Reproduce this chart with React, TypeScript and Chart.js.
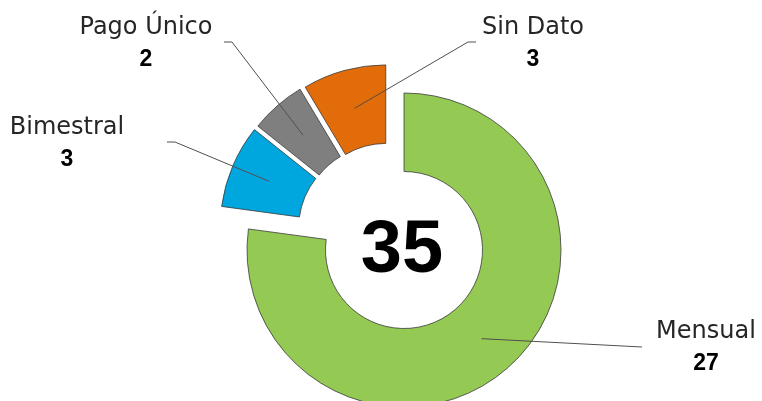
import React, { useEffect, useRef } from 'react';
import { Chart, registerables } from 'chart.js';

Chart.register(...registerables);

// ---- data ----
const categories = ['Mensual', 'Bimestral', 'Pago Único', 'Sin Dato'];
const values = [27, 3, 2, 3];
const colors = ['#94C954', '#00A6DE', '#7F7F7F', '#E36C0A'];

// ---- style: explosion of slices (px, direction in degrees clockwise from 12 o'clock) ----
const explodeDist = [0, 35, 35, 33.5];
const explodeDir = [0, 310, 318, 327];

// ---- style: label block centres relative to the doughnut centre ----
const labelDX = [302, -337, -258, 129];
const labelDY = [98, -106, -206, -206];
// leader line start (relative to block centre) and elbow length (signed)
const leaderDX = [-64, 100, 78, -57];
const leaderDY = [-1, -2, -2, -2];
const leaderElbow = [0, 8, 8, -8];

const LABEL_FONT = '24px "DejaVu Sans", sans-serif';
const VALUE_FONT = 'bold 23px "Liberation Sans", Arial, sans-serif';
const CENTER_FONT = 'bold 74px "Liberation Sans", Arial, sans-serif';

function centre(chart: any) {
  const a = chart.chartArea;
  return { cx: (a.left + a.right) / 2, cy: (a.top + a.bottom) / 2 };
}

const explodePlugin = {
  id: 'explodeSlices',
  afterDatasetsUpdate(chart: any) {
    const { cx, cy } = centre(chart);
    const meta = chart.getDatasetMeta(0);
    meta.data.forEach((el: any, i: number) => {
      const d = explodeDist[i] || 0;
      const a = ((explodeDir[i] || 0) * Math.PI) / 180;
      el.x = cx + d * Math.sin(a);
      el.y = cy - d * Math.cos(a);
    });
  },
};

const calloutPlugin = {
  id: 'callouts',
  afterDatasetsDraw(chart: any) {
    const ctx = chart.ctx;
    const { cx, cy } = centre(chart);
    const meta = chart.getDatasetMeta(0);
    ctx.save();
    // leader lines
    ctx.strokeStyle = '#505050';
    ctx.lineWidth = 1;
    meta.data.forEach((el: any, i: number) => {
      const p = el.getCenterPoint();
      const bx = cx + labelDX[i];
      const by = cy + labelDY[i];
      const sx = bx + leaderDX[i];
      const sy = by + leaderDY[i];
      ctx.beginPath();
      ctx.moveTo(sx, sy);
      if (leaderElbow[i]) ctx.lineTo(sx + leaderElbow[i], sy);
      ctx.lineTo(p.x, p.y);
      ctx.stroke();
    });
    // labels
    ctx.textAlign = 'center';
    ctx.textBaseline = 'middle';
    categories.forEach((name, i) => {
      const bx = cx + labelDX[i];
      const by = cy + labelDY[i];
      ctx.fillStyle = '#262626';
      ctx.font = LABEL_FONT;
      ctx.fillText(name, bx, by - 16);
      ctx.fillStyle = '#000000';
      ctx.font = VALUE_FONT;
      ctx.fillText(String(values[i]), bx, by + 16);
    });
    // centre total
    const total = values.reduce((s, v) => s + v, 0);
    ctx.fillStyle = '#000000';
    ctx.font = CENTER_FONT;
    ctx.fillText(String(total), cx - 2, cy + 2);
    ctx.restore();
  },
};

export default function App() {
  const ref = useRef<HTMLCanvasElement | null>(null);
  useEffect(() => {
    if (!ref.current) return;
    const chart = new Chart(ref.current, {
      type: 'doughnut',
      data: {
        labels: categories,
        datasets: [
          {
            data: values,
            backgroundColor: colors,
            borderColor: '#3a3a3a',
            borderWidth: 0.8,
            hoverOffset: 0,
          },
        ],
      },
      options: {
        responsive: true,
        maintainAspectRatio: false,
        animation: false,
        radius: 157,
        cutout: '50%',
        layout: { padding: { left: 46, right: 0, top: 0, bottom: 0 } },
        plugins: {
          legend: { display: false },
          tooltip: { enabled: false },
        },
        events: [],
      } as any,
      plugins: [explodePlugin, calloutPlugin],
    });
    return () => chart.destroy();
  }, []);
  return (
    <div style={{ position: 'fixed', left: 0, top: 0, width: 762, height: 500, background: '#fff' }}>
      <canvas ref={ref} />
    </div>
  );
}
